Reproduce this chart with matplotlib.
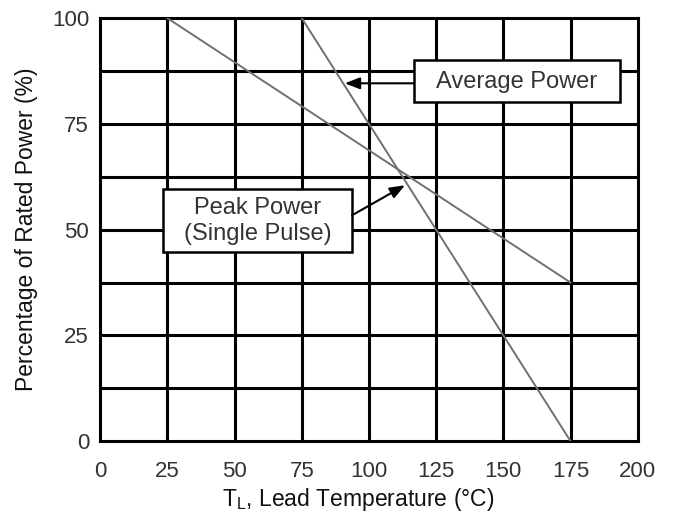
import matplotlib.pyplot as plt
from matplotlib.patches import Rectangle
import numpy as np

plt.rcParams['font.family'] = ['Liberation Sans', 'DejaVu Sans']

# derating curves (temp degC, % rated power)
peak_t = [25, 175]
peak_p = [100, 37.5]
avg_t = [75, 175]
avg_p = [100, 0]

xticks = [0, 25, 50, 75, 100, 125, 150, 175, 200]
yticks = [0, 25, 50, 75, 100]
ygrid = np.arange(0, 101, 12.5)

fig = plt.figure(figsize=(6.77, 5.19), dpi=100)
ax = fig.add_axes([0.148, 0.150, 0.794, 0.815])

ax.plot(peak_t, peak_p, color='#707070', lw=1.4, zorder=3)
ax.plot(avg_t, avg_p, color='#707070', lw=1.4, zorder=3)

for x in xticks[1:-1]:
    ax.axvline(x, color='black', lw=2.2, zorder=2)
for y in ygrid[1:-1]:
    ax.axhline(y, color='black', lw=2.2, zorder=2)

ax.set_xlim(0, 200)
ax.set_ylim(0, 100)
ax.set_xticks(xticks)
ax.set_yticks(yticks)
ax.tick_params(length=0, labelsize=16, labelcolor='#333333')
ax.tick_params(axis='x', pad=14)
ax.tick_params(axis='y', pad=8)
for s in ax.spines.values():
    s.set_linewidth(2.2)

ax.set_xlabel('T$_\\mathregular{L}$, Lead Temperature (°C)', fontsize=16.5, color='#111111', labelpad=2)
ax.xaxis.set_label_coords(0.48, -0.105)
ax.set_ylabel('Percentage of Rated Power (%)', fontsize=16.5, color='#111111', labelpad=10)

# annotation boxes
ax.add_patch(Rectangle((116.7, 80.1), 76.6, 10.0, fc='white', ec='black', lw=1.8, zorder=5))
ax.text(155, 85.0, 'Average Power', ha='center', va='center', fontsize=17,
        color='#333333', zorder=6)
ax.add_patch(Rectangle((23.4, 44.7), 70.3, 14.9, fc='white', ec='black', lw=1.8, zorder=5))
ax.text(58.6, 52.1, 'Peak Power\n(Single Pulse)', ha='center', va='center', fontsize=17,
        color='#333333', linespacing=1.25, zorder=6)

arrow = dict(arrowstyle='-|>,head_length=0.9,head_width=0.35', color='black', lw=1.5,
             shrinkA=0, shrinkB=0)
ax.annotate('', xy=(91, 84.6), xytext=(116.7, 84.6), arrowprops=arrow, zorder=6)
ax.annotate('', xy=(113.4, 60.5), xytext=(93.7, 53.4), arrowprops=arrow, zorder=6)

fig.savefig('out.png', dpi=100)
